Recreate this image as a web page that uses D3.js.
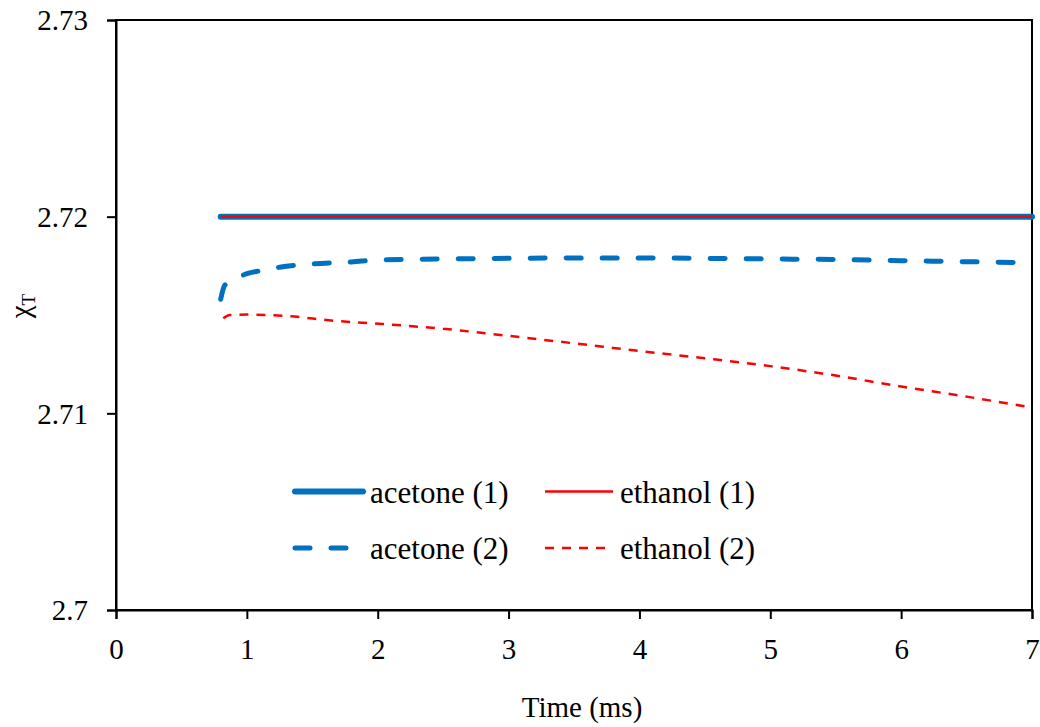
<!DOCTYPE html>
<html>
<head>
<meta charset="utf-8">
<script src="https://cdn.jsdelivr.net/npm/d3@7/dist/d3.min.js"></script>
<style>
  html, body { margin: 0; padding: 0; background: #fff; }
  svg text { font-family: "Liberation Serif", "Times New Roman", serif !important; fill: #000; }
</style>
</head>
<body>
<svg id="chart" width="1040" height="727"></svg>
<script>
// ---- data ----
const xTicks = [0, 1, 2, 3, 4, 5, 6, 7];
const xTickLabels = ["0", "1", "2", "3", "4", "5", "6", "7"];
const yTicks = [2.7, 2.71, 2.72, 2.73];
const yTickLabels = ["2.7", "2.71", "2.72", "2.73"];

const acetone1Time = [0.8, 7];
const acetone1Val  = [2.72, 2.72];
const ethanol1Time = [0.8, 7];
const ethanol1Val  = [2.72, 2.72];

const acetone2Time = [0.8, 0.83, 0.9, 1.0, 1.1, 1.25, 1.5, 1.8, 2.0, 2.5, 3.0, 3.5, 4.0, 4.5, 5.0, 5.5, 6.0, 6.5, 7.0];
const acetone2Val  = [2.7158, 2.7165, 2.7168, 2.7171, 2.71725, 2.71743, 2.7176, 2.7177, 2.7178, 2.71785, 2.71788, 2.7179, 2.7179, 2.71788, 2.71785, 2.71782, 2.71776, 2.71771, 2.71766];

const ethanol2Time = [0.82, 0.87, 1.0, 1.3, 1.66, 2.04, 2.5, 3.0, 3.5, 4.0, 4.5, 5.0, 5.5, 6.0, 6.5, 7.0];
const ethanol2Val  = [2.71483, 2.715, 2.71502, 2.71495, 2.71471, 2.71454, 2.7143, 2.71394, 2.71356, 2.71317, 2.7128, 2.7124, 2.71192, 2.71136, 2.71085, 2.71029];

const seriesNames = ["acetone (1)", "ethanol (1)", "acetone (2)", "ethanol (2)"];

// ---- layout ----
const svg = d3.select("#chart");
const mLeft = 116, mRight = 1032, mTop = 20, mBottom = 610;
const FONT = "'Liberation Serif', 'Times New Roman', serif";

const x = d3.scaleLinear().domain([0, 7]).range([mLeft, mRight]);
const y = d3.scaleLinear().domain([2.7, 2.73]).range([mBottom, mTop]);

const BLUE = "#0070C0", RED = "#FF0000";

// frame
svg.append("rect")
  .attr("x", mLeft).attr("y", mTop)
  .attr("width", mRight - mLeft).attr("height", mBottom - mTop)
  .attr("fill", "none").attr("stroke", "#000").attr("stroke-width", 2);

// y axis
const yAxis = d3.axisLeft(y).tickValues(yTicks)
  .tickFormat((d, i) => yTickLabels[i]).tickSize(9).tickPadding(19);
const gy = svg.append("g").attr("transform", `translate(${mLeft},0)`).call(yAxis)
  .attr("font-family", FONT);
gy.select(".domain").attr("stroke-width", 2);
gy.selectAll(".tick line").attr("stroke-width", 2);
gy.selectAll(".tick text").style("font-size", "29px").attr("dy", "0.34em");

// x axis
const xAxis = d3.axisBottom(x).tickValues(xTicks)
  .tickFormat((d, i) => xTickLabels[i]).tickSize(9).tickPadding(19);
const gx = svg.append("g").attr("transform", `translate(0,${mBottom})`).call(xAxis)
  .attr("font-family", FONT);
gx.select(".domain").attr("stroke-width", 2);
gx.selectAll(".tick line").attr("stroke-width", 2);
gx.selectAll(".tick text").style("font-size", "29px").attr("dy", "0.71em");

// axis titles
svg.append("text")
  .attr("x", 582).attr("y", 717)
  .attr("text-anchor", "middle")
  .style("font-size", "29px")
  .text("Time (ms)");

const yl = svg.append("text")
  .attr("transform", "translate(30,306) rotate(-90)")
  .attr("text-anchor", "middle")
  .style("font-size", "29px");
yl.append("tspan").text("χ");
yl.append("tspan").attr("dy", "5").style("font-size", "19px").text("T");

// lines
const line = d3.line().x(d => x(d[0])).y(d => y(d[1])).curve(d3.curveMonotoneX);
const zip = (a, b) => a.map((v, i) => [v, b[i]]);

svg.append("path").datum(zip(acetone1Time, acetone1Val)).attr("d", line)
  .attr("fill", "none").attr("stroke", BLUE).attr("stroke-width", 6).attr("stroke-linecap", "round");
svg.append("path").datum(zip(ethanol1Time, ethanol1Val)).attr("d", line)
  .attr("fill", "none").attr("stroke", RED).attr("stroke-width", 2.5);
svg.append("path").datum(zip(acetone2Time, acetone2Val)).attr("d", line)
  .attr("fill", "none").attr("stroke", BLUE).attr("stroke-width", 5)
  .attr("stroke-dasharray", "15,21").attr("stroke-linecap", "round");
svg.append("path").datum(zip(ethanol2Time, ethanol2Val)).attr("d", line)
  .attr("fill", "none").attr("stroke", RED).attr("stroke-width", 2.5)
  .attr("stroke-dasharray", "9,8");

// legend
const legendItems = [
  { name: seriesNames[0], lx: 295, ly: 491.5, color: BLUE, w: 6, dash: null, cap: "round" },
  { name: seriesNames[1], lx: 545, ly: 491.5, color: RED, w: 2.5, dash: null, cap: "butt" },
  { name: seriesNames[2], lx: 295, ly: 548, color: BLUE, w: 5, dash: "15,21", cap: "round" },
  { name: seriesNames[3], lx: 545, ly: 548, color: RED, w: 2.5, dash: "9,8", cap: "butt" }
];
legendItems.forEach(it => {
  const l = svg.append("line")
    .attr("x1", it.lx).attr("x2", it.lx + 68)
    .attr("y1", it.ly).attr("y2", it.ly)
    .attr("stroke", it.color).attr("stroke-width", it.w)
    .attr("stroke-linecap", it.cap);
  if (it.dash) l.attr("stroke-dasharray", it.dash);
  svg.append("text")
    .attr("x", it.lx + 75).attr("y", it.ly + 11)
    .style("font-size", "31px")
    .text(it.name);
});
</script>
</body>
</html>
